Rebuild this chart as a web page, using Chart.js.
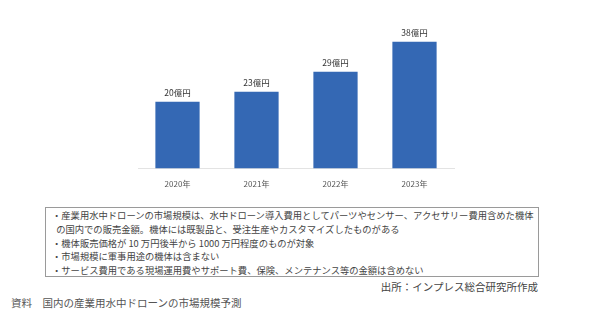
<!DOCTYPE html>
<html>
<head>
<meta charset="utf-8">
<script src="https://cdn.jsdelivr.net/npm/chart.js@4/dist/chart.umd.min.js"></script>
<style>
  html, body { margin: 0; padding: 0; background: #fff; }
  body { width: 600px; height: 324px; position: relative; overflow: hidden;
         font-family: "Noto Sans CJK JP", "Noto Sans", sans-serif; }
  #wrap { position: absolute; left: 0; top: 0; width: 600px; height: 200px; }
  #notes { position: absolute; left: 45px; top: 207px; width: 494px; height: 70px;
           border: 1px solid #9a9a9a; box-sizing: border-box; padding: 1px 0 0 6px;
           font-size: 9.3px; line-height: 13.8px; color: #444; }
  #notes div { white-space: nowrap; }
  #source { position: absolute; right: 62px; top: 279px; font-size: 10.5px; color: #444; }
  #caption { position: absolute; left: 11px; top: 295px; font-size: 10.5px; color: #555; }
</style>
</head>
<body>
<div id="wrap"><canvas id="canvas"></canvas></div>
<div id="notes">
  <div>・産業用水中ドローンの市場規模は、水中ドローン導入費用としてパーツやセンサー、アクセサリー費用含めた機体</div>
  <div>&nbsp;&nbsp;の国内での販売金額。機体には既製品と、受注生産やカスタマイズしたものがある</div>
  <div>・機体販売価格が 10 万円後半から 1000 万円程度のものが対象</div>
  <div>・市場規模に軍事用途の機体は含まない</div>
  <div>・サービス費用である現場運用費やサポート費、保険、メンテナンス等の金額は含めない</div>
</div>
<div id="source">出所：インプレス総合研究所作成</div>
<div id="caption">資料　国内の産業用水中ドローンの市場規模予測</div>
<script>
// data
var years = ["2020年", "2021年", "2022年", "2023年"];
var marketSize = [20, 23, 29, 38];
var unit = "億円";

var barColor = '#3468b4';

// value labels above bars
var valueLabels = {
    id: 'valueLabels',
    afterDatasetsDraw: function(chart) {
        var ctx = chart.ctx;
        var meta = chart.getDatasetMeta(0);
        ctx.save();
        ctx.font = '8.5px "Noto Sans CJK JP", sans-serif';
        ctx.fillStyle = '#333';
        ctx.textAlign = 'center';
        ctx.textBaseline = 'middle';
        meta.data.forEach(function(bar, i) {
            ctx.fillText(marketSize[i] + unit, bar.x, bar.y - 9);
        });
        ctx.restore();
    }
};

window.onload = function() {
    var ctx = document.getElementById("canvas").getContext("2d");
    window.myBar = new Chart(ctx, {
        type: 'bar',
        data: {
            labels: years,
            datasets: [{
                data: marketSize,
                backgroundColor: barColor,
                borderWidth: 0,
                categoryPercentage: 1,
                barPercentage: 0.56
            }]
        },
        options: {
            responsive: true,
            maintainAspectRatio: false,
            animation: false,
            layout: {
                padding: { left: 138, right: 146, top: 35, bottom: 8 }
            },
            plugins: {
                legend: { display: false },
                tooltip: { enabled: false }
            },
            scales: {
                x: {
                    grid: { display: false },
                    border: { display: true, color: '#e3e3e3', width: 1 },
                    ticks: {
                        color: '#555',
                        font: { size: 8, family: '"Noto Sans CJK JP", sans-serif' },
                        padding: 3
                    }
                },
                y: {
                    display: false,
                    min: 0,
                    max: 40
                }
            }
        },
        plugins: [valueLabels]
    });
};
</script>
</body>
</html>
